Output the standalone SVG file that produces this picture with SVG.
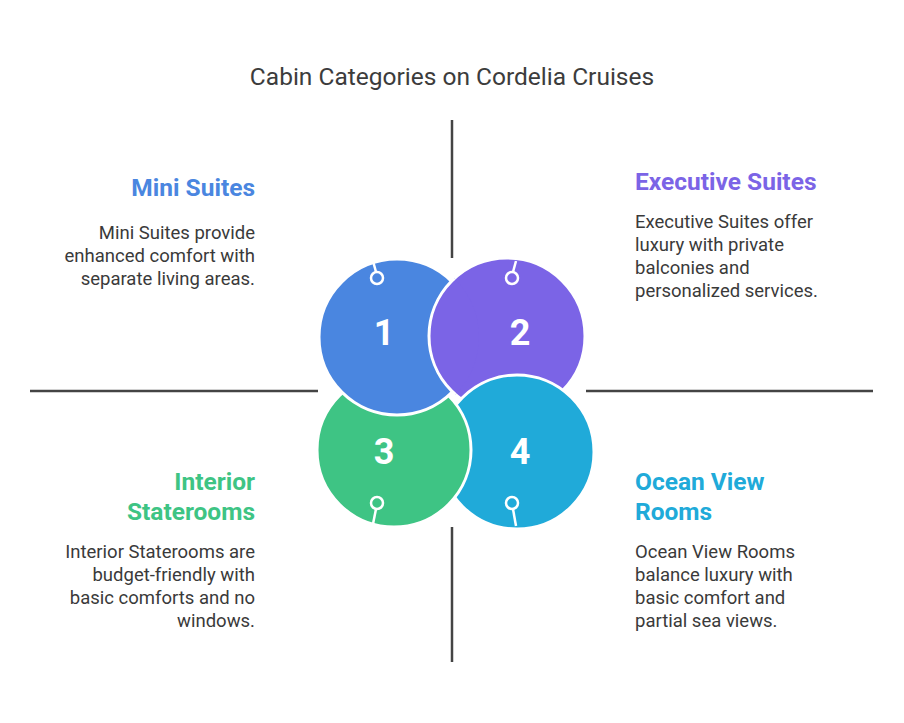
<svg xmlns="http://www.w3.org/2000/svg" width="904" height="723" viewBox="0 0 904 723">
<style>
text{font-family:Roboto,"Liberation Sans",sans-serif}
.t{font-size:24.5px;fill:#3c3c3c}
.h{font-size:24.5px;font-weight:bold}
.b{font-size:18.5px;fill:#3a3a3a}
.n{font-size:36px;font-weight:bold;fill:#fff;text-anchor:middle}
.c{stroke:#fff;stroke-width:3}
.pin{fill:none;stroke:#fff;stroke-width:2.5}
.ax{stroke:#444;stroke-width:2.5}
</style>
<defs><clipPath id="c1"><circle cx="397" cy="337" r="82"/></clipPath></defs>
<rect width="904" height="723" fill="#fff"/>
<text class="t" x="452" y="85" text-anchor="middle">Cabin Categories on Cordelia Cruises</text>
<g id="connectors">
<line class="ax" x1="452" y1="120" x2="452" y2="258"/>
<line class="ax" x1="452" y1="527" x2="452" y2="662"/>
<line class="ax" x1="30" y1="391" x2="318" y2="391"/>
<line class="ax" x1="586" y1="391" x2="873" y2="391"/>
</g>
<g id="node2b"><circle class="c" cx="507" cy="336" r="78" fill="#7b64e6"/></g>
<g id="node4"><circle class="c" cx="517" cy="452" r="77" fill="#20aad9"/></g>
<g id="node3"><circle class="c" cx="394" cy="450" r="77" fill="#3ec484"/></g>
<g id="node1"><circle class="c" cx="397" cy="337" r="78" fill="#4a86e0"/></g>
<g id="node2"><circle class="c" cx="507" cy="336" r="78" fill="#7b64e6" clip-path="url(#c1)"/></g>
<g id="pins">
<line class="pin" x1="373" y1="261" x2="376" y2="272"/><circle class="pin" cx="377" cy="278" r="6"/>
<line class="pin" x1="516" y1="261" x2="513" y2="272"/><circle class="pin" cx="512" cy="278" r="6"/>
<line class="pin" x1="373" y1="524" x2="376" y2="509"/><circle class="pin" cx="377" cy="503" r="6"/>
<line class="pin" x1="516" y1="526" x2="513" y2="509"/><circle class="pin" cx="512" cy="503" r="6"/>
</g>
<text class="n" x="384" y="345">1</text>
<text class="n" x="520" y="345">2</text>
<text class="n" x="384" y="464">3</text>
<text class="n" x="520" y="464">4</text>
<g id="t1" text-anchor="end">
<text class="h" x="255" y="196" fill="#4a86e0">Mini Suites</text>
<text class="b" x="255" y="239">Mini Suites provide</text>
<text class="b" x="255" y="262">enhanced comfort with</text>
<text class="b" x="255" y="285">separate living areas.</text>
</g>
<g id="t2">
<text class="h" x="635" y="190" fill="#7b64e6">Executive Suites</text>
<text class="b" x="635" y="228">Executive Suites offer</text>
<text class="b" x="635" y="251">luxury with private</text>
<text class="b" x="635" y="274">balconies and</text>
<text class="b" x="635" y="297">personalized services.</text>
</g>
<g id="t3" text-anchor="end">
<text class="h" x="255" y="490" fill="#3ec484">Interior</text>
<text class="h" x="255" y="520" fill="#3ec484">Staterooms</text>
<text class="b" x="255" y="558">Interior Staterooms are</text>
<text class="b" x="255" y="581">budget-friendly with</text>
<text class="b" x="255" y="604">basic comforts and no</text>
<text class="b" x="255" y="627">windows.</text>
</g>
<g id="t4">
<text class="h" x="635" y="490" fill="#20aad9">Ocean View</text>
<text class="h" x="635" y="520" fill="#20aad9">Rooms</text>
<text class="b" x="635" y="558">Ocean View Rooms</text>
<text class="b" x="635" y="581">balance luxury with</text>
<text class="b" x="635" y="604">basic comfort and</text>
<text class="b" x="635" y="627">partial sea views.</text>
</g>
</svg>
